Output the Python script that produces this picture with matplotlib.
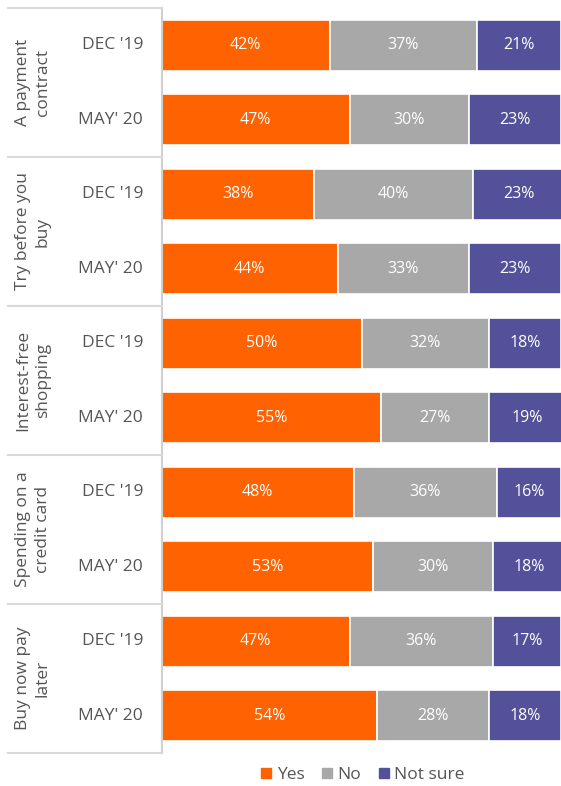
import matplotlib.pyplot as plt
from matplotlib.lines import Line2D
import numpy as np

plt.rcParams["font.family"] = ["Open Sans", "DejaVu Sans"]

GROUPS = ["A payment\ncontract", "Try before you\nbuy", "Interest-free\nshopping",
          "Spending on a\ncredit card", "Buy now pay\nlater"]
PERIODS = ["DEC '19", "MAY' 20"]
YES = [42, 47, 38, 44, 50, 55, 48, 53, 47, 54]
NO = [37, 30, 40, 33, 32, 27, 36, 30, 36, 28]
NOT_SURE = [21, 23, 23, 23, 18, 19, 16, 18, 17, 18]
SERIES = ["Yes", "No", "Not sure"]
COLORS = ["#FF6200", "#A8A8A8", "#525199"]

W, H = 561, 786
fig = plt.figure(figsize=(W / 100, H / 100), dpi=100)
ax_left, ax_right = 162 / W, 1.0
ax_top, ax_bot = 1 - 8 / H, 1 - 753 / H
ax = fig.add_axes([ax_left, ax_bot, ax_right - ax_left, ax_top - ax_bot])

y = np.arange(len(YES))
left = np.zeros(len(YES))
for vals, color in zip([YES, NO, NOT_SURE], COLORS):
    vals = np.array(vals)
    ax.barh(y, vals, left=left, height=0.69, color=color, edgecolor="white", linewidth=1.2)
    for yi, l, v in zip(y, left, vals):
        ax.text(l + v / 2, yi, f"{v}%", ha="center", va="center", color="white", fontsize=11.5)
    left += vals

ax.set_xlim(0, 100)
ax.set_ylim(len(YES) - 0.5, -0.5)
ax.set_xticks([])
ax.set_yticks([])
for s in ["top", "right", "bottom"]:
    ax.spines[s].set_visible(False)
ax.spines["left"].set_color("#d0d0d0")
ax.spines["left"].set_linewidth(1.5)

# left side label table
line_color = "#d9d9d9"
x0 = 8 / W
n_rows = len(YES)
row_h = (ax_top - ax_bot) / n_rows
for g in range(len(GROUPS) + 1):
    yy = ax_top - g * 2 * row_h
    fig.add_artist(Line2D([x0, ax_left], [yy, yy], color=line_color, lw=1.5,
                          transform=fig.transFigure))

for g, name in enumerate(GROUPS):
    yc = ax_top - (g * 2 + 1) * row_h
    fig.text(33 / W, yc, name, rotation=90, ha="center", va="center",
             color="#555555", fontsize=12.5, linespacing=1.3)
    for p, per in enumerate(PERIODS):
        yr = ax_top - (g * 2 + p + 0.5) * row_h
        fig.text(143 / W, yr, per, ha="right", va="center", color="#555555", fontsize=12.5)

handles = [Line2D([], [], marker="s", linestyle="", color=c, markersize=6.5) for c in COLORS]
fig.legend(handles, SERIES, loc="center", bbox_to_anchor=(361 / W, 1 - 775 / H),
           ncol=3, frameon=False, fontsize=12.5, handletextpad=0.1, columnspacing=0.8,
           handlelength=1.0, labelcolor="#555555")

fig.savefig("out.png", dpi=100)
